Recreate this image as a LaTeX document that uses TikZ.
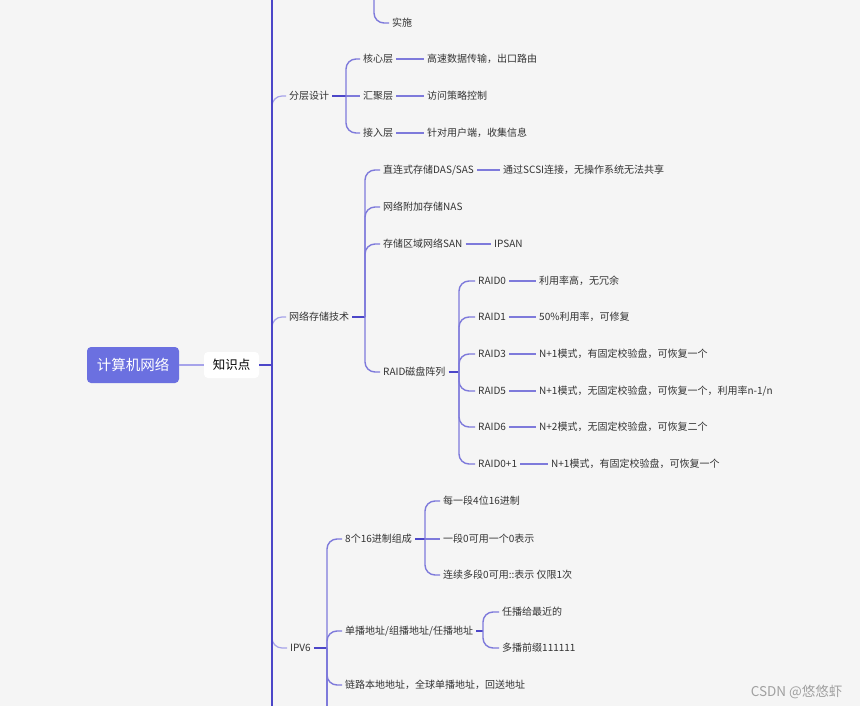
\documentclass[tikz,border=0pt]{standalone}
\usepackage{fontspec}
\newfontfamily\cjk{Noto Sans CJK SC}
\usetikzlibrary{calc}
\definecolor{cBg}{HTML}{F5F5F5}
\definecolor{cRoot}{HTML}{6B70E0}
\definecolor{cDark}{HTML}{4C46C8}
\definecolor{cMid}{HTML}{7E7ADB}
\definecolor{cLight}{HTML}{A6A3EA}
\definecolor{cTxt}{HTML}{333333}
\definecolor{cMark}{HTML}{A0A0A0}

\begin{document}
\begin{tikzpicture}[
    x=1pt, y=-1pt, font=\cjk\fontsize{10}{12}\selectfont,
    topic/.style={anchor=west, inner xsep=3pt, inner ysep=2pt, text=cTxt},
    rootbox/.style={fill=cRoot, rounded corners=4pt, text=white,
                    minimum width=92pt, minimum height=36pt,
                    font=\cjk\fontsize{14.5}{16}\selectfont},
    subbox/.style={fill=white, rounded corners=4pt, text=black,
                   minimum width=55pt, minimum height=26pt,
                   font=\cjk\fontsize{12.5}{14}\selectfont},
    trunk/.style={draw=cDark, line width=2.4pt},
    stem/.style={draw=cDark, line width=2pt},
    branch/.style={draw=cLight, line width=1.2pt, rounded corners=10pt},
    fork/.style={draw=cMid, line width=1.4pt, rounded corners=10pt},
    leaf/.style={draw=cMid, line width=1.1pt},
]
\useasboundingbox (0,0) rectangle (860,706);
\fill[cBg] (0,0) rectangle (860,706);

% ===========================================================================
% Raiz y tronco
% ===========================================================================
\coordinate (mTop) at (272,0);
\coordinate (mBot) at (272,706);
\coordinate (jMain) at (272,365);

\node[rootbox] (net) at (133,365) {计算机网络};
\node[subbox] (know) at (231.5,365) {知识点};
\draw[draw=cLight, line width=2.5pt] (net.east) -- (know.west);

% ----- rama anterior (cortada) -----
\coordinate (jPrev) at (374,0);
\node[topic] (impl) at (389,23) {实施};
\draw[fork] (jPrev) |- (impl.west);

% ===========================================================================
% 分层设计
% ===========================================================================
\node[topic] (layer) at (286,96) {分层设计};
\draw[branch] (jMain) |- (layer.west);
\coordinate (jLayer) at (346,96);
\draw[stem] (layer.east) -- (jLayer);

\node[topic] (core) at (360,59) {核心层};
\node[topic] (aggr) at (360,96) {汇聚层};
\node[topic] (acc) at (360,133) {接入层};
\draw[fork] (jLayer) |- (core.west);
\draw[fork] (jLayer) -- (aggr.west);
\draw[fork] (jLayer) |- (acc.west);

\node[topic] (coreT) at (424,59) {高速数据传输，出口路由};
\node[topic] (aggrT) at (424,96) {访问策略控制};
\node[topic] (accT) at (424,133) {针对用户端，收集信息};
\foreach \a/\b in {core/coreT, aggr/aggrT, acc/accT}
    \draw[leaf] (\a.east) -- (\b.west);

% ===========================================================================
% 网络存储技术
% ===========================================================================
\node[topic] (store) at (286,317) {网络存储技术};
\draw[branch] (jMain) |- (store.west);
\coordinate (jStore) at (365,317);
\draw[stem] (store.east) -- (jStore);

\node[topic] (das) at (380,170) {直连式存储DAS/SAS};
\node[topic] (nas) at (380,207) {网络附加存储NAS};
\node[topic] (san) at (380,244) {存储区域网络SAN};
\node[topic] (raid) at (380,372) {RAID磁盘阵列};
\foreach \n in {das, nas, san, raid}
    \draw[fork] (jStore) |- (\n.west);

\node[topic] (dasT) at (500,170) {通过SCSI连接，无操作系统无法共享};
\node[topic] (sanT) at (491,244) {IPSAN};
\draw[leaf] (das.east) -- (dasT.west);
\draw[leaf] (san.east) -- (sanT.west);

% ----- RAID -----
\coordinate (jRaid) at (459,372);
\draw[stem] (raid.east) -- (jRaid);

\node[topic] (r0) at (475,281) {RAID0};
\node[topic] (r1) at (475,317) {RAID1};
\node[topic] (r3) at (475,354) {RAID3};
\node[topic] (r5) at (475,391) {RAID5};
\node[topic] (r6) at (475,427) {RAID6};
\node[topic] (r01) at (475,464) {RAID0+1};
\foreach \n in {r0, r1, r3, r5, r6, r01}
    \draw[fork] (jRaid) |- (\n.west);

\node[topic] (r0T) at (536,281) {利用率高，无冗余};
\node[topic] (r1T) at (536,317) {50\%利用率，可修复};
\node[topic] (r3T) at (536,354) {N+1模式，有固定校验盘，可恢复一个};
\node[topic] (r5T) at (536,391) {N+1模式，无固定校验盘，可恢复一个，利用率n-1/n};
\node[topic] (r6T) at (536,427) {N+2模式，无固定校验盘，可恢复二个};
\node[topic] (r01T) at (548,464) {N+1模式，有固定校验盘，可恢复一个};
\foreach \a in {r0, r1, r3, r5, r6, r01}
    \draw[leaf] (\a.east) -- (\a T.west);

% ===========================================================================
% IPV6
% ===========================================================================
\node[topic] (ipv6) at (287,648) {IPV6};
\draw[branch] (jMain) |- (ipv6.west);
\coordinate (jIpv6) at (327,648);
\coordinate (ipEnd) at (327,706);
\draw[stem] (ipv6.east) -- (jIpv6);
\draw[fork] (jIpv6) -- (ipEnd);

\node[topic] (hex) at (342,539) {8个16进制组成};
\node[topic] (cast) at (342,631) {单播地址/组播地址/任播地址};
\node[topic] (link) at (342,685) {链路本地地址，全球单播地址，回送地址};
\foreach \n in {hex, cast, link}
    \draw[fork] (jIpv6) |- (\n.west);

% ----- 8个16进制组成 -----
\coordinate (jHex) at (425,539);
\draw[stem] (hex.east) -- (jHex);
\node[topic] (hex1) at (440,501) {每一段4位16进制};
\node[topic] (hex2) at (440,539) {一段0可用一个0表示};
\node[topic] (hex3) at (440,575) {连续多段0可用::表示 仅限1次};
\draw[fork] (jHex) |- (hex1.west);
\draw[fork] (jHex) -- (hex2.west);
\draw[fork] (jHex) |- (hex3.west);

% ----- 单播/组播/任播 -----
\coordinate (jCast) at (483,631);
\draw[stem] (cast.east) -- (jCast);
\node[topic] (cast1) at (499,612) {任播给最近的};
\node[topic] (cast2) at (499,648) {多播前缀111111};
\draw[fork] (jCast) |- (cast1.west);
\draw[fork] (jCast) |- (cast2.west);

% ----- tronco encima de las ramas -----
\draw[trunk] (mTop) -- (mBot);
\draw[stem, line width=2.5pt] (know.east) -- (jMain);

\node[anchor=east, text=cMark, font=\cjk\fontsize{13.5}{15}\selectfont]
      (mark) at (846,692) {CSDN @悠悠虾};

\end{tikzpicture}
\end{document}
